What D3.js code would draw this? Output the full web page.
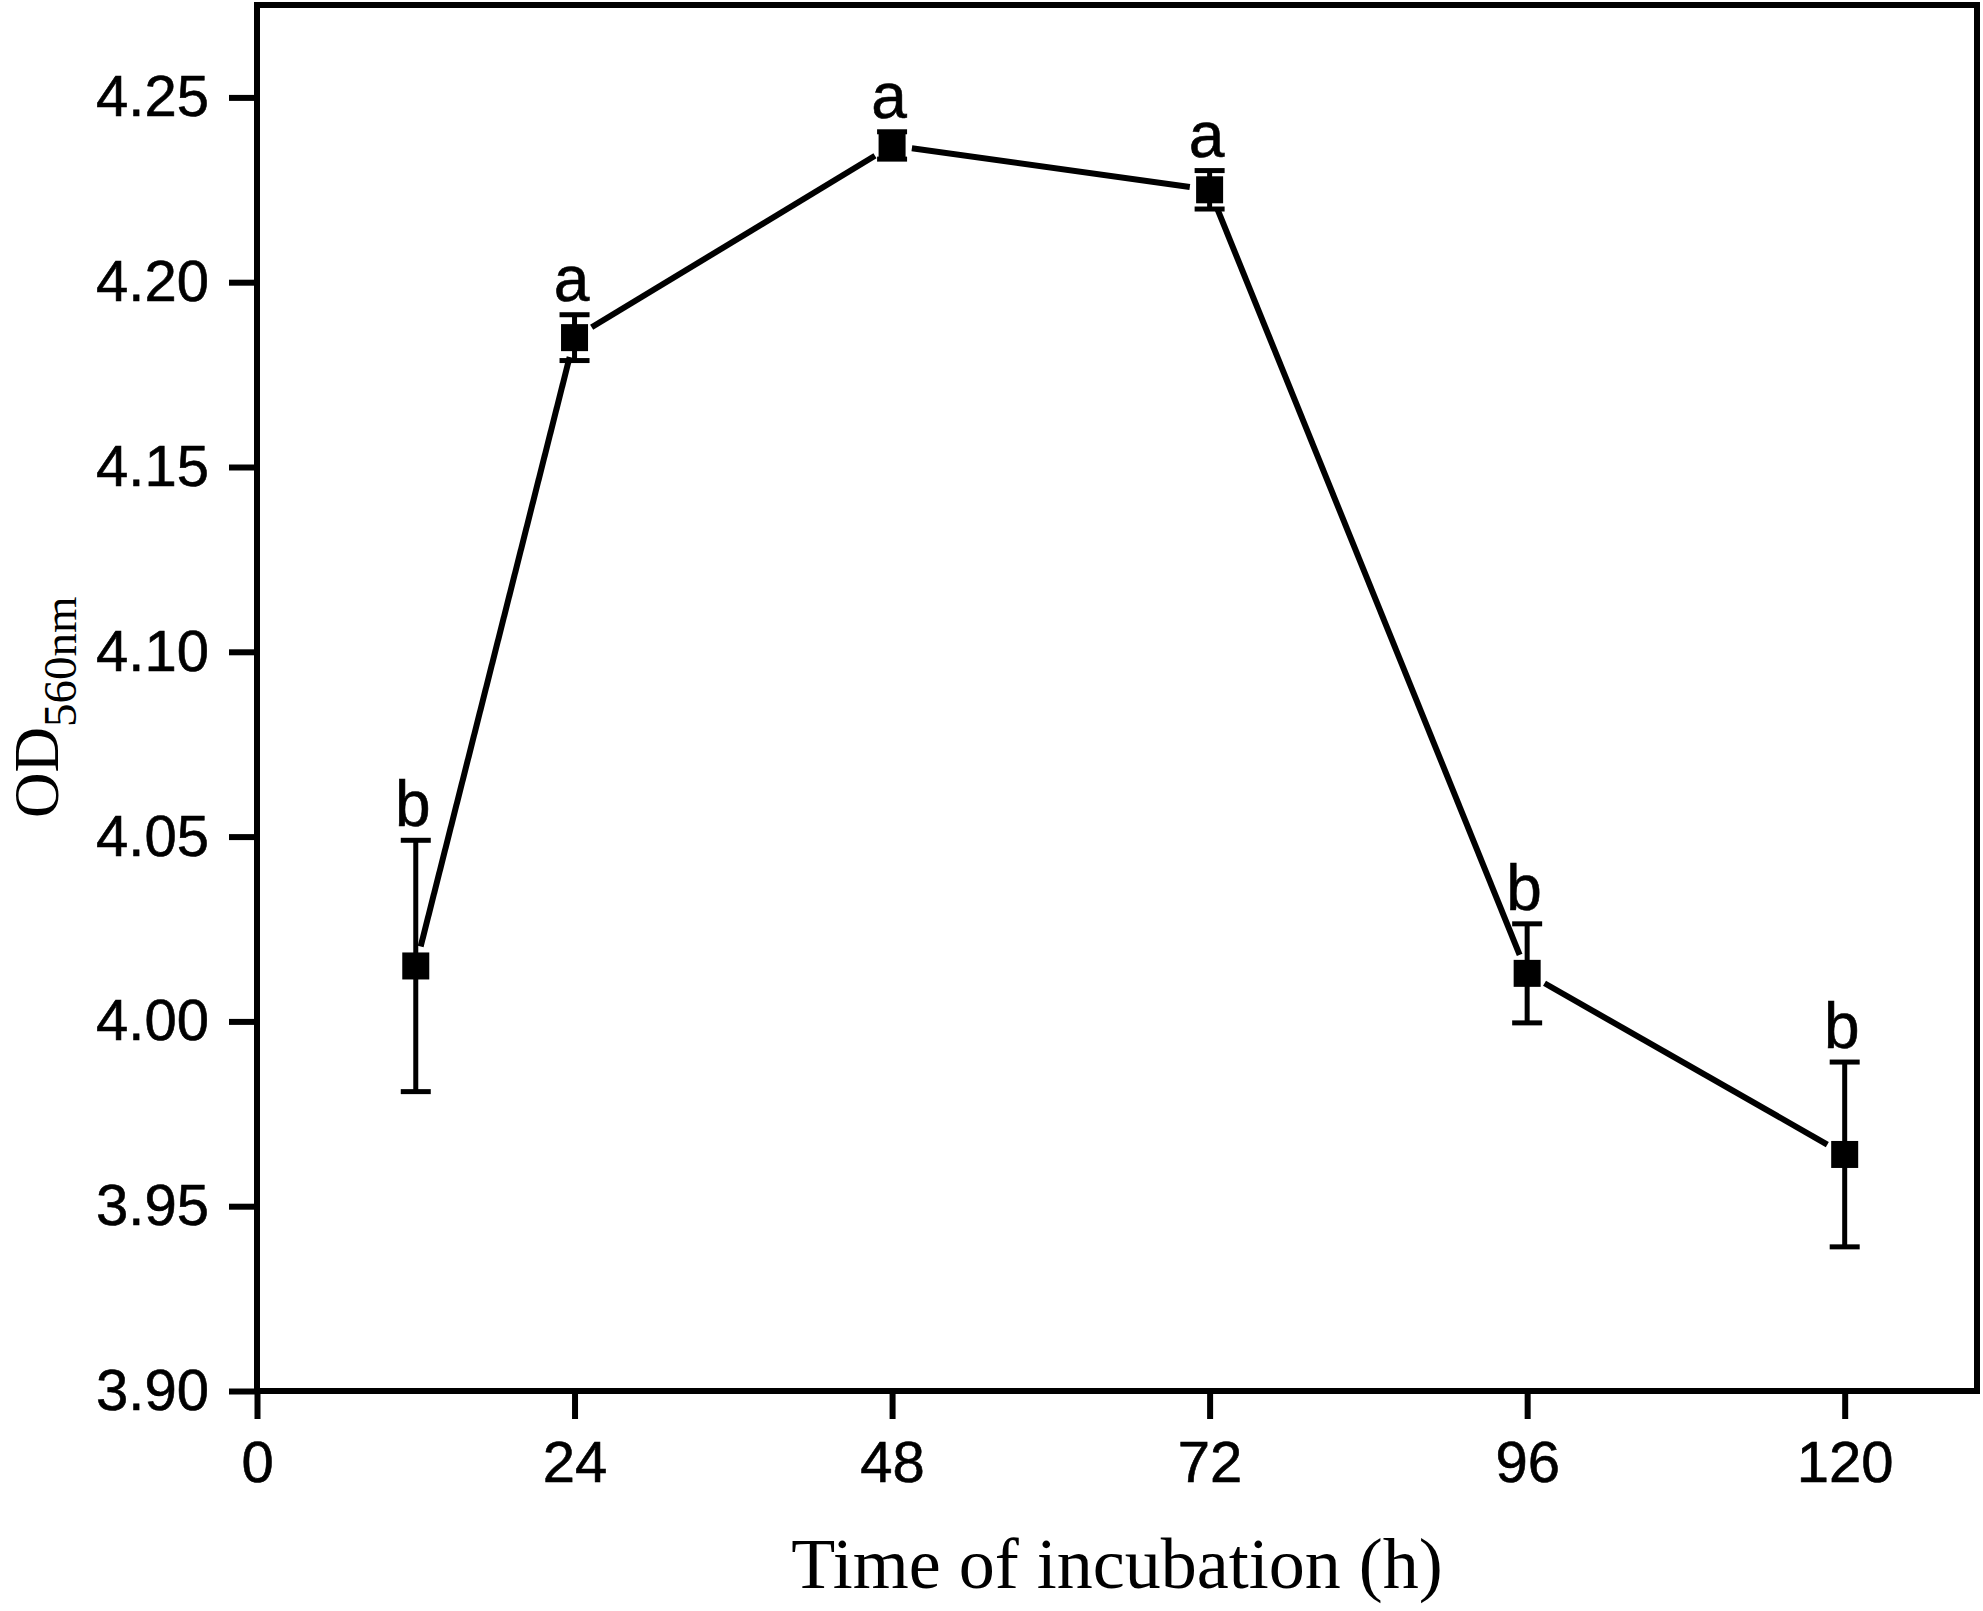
<!DOCTYPE html>
<html>
<head>
<meta charset="utf-8">
<script src="https://cdn.jsdelivr.net/npm/d3@7"></script>
<style>
	body { margin: 0; background: #fff; }
	svg { display: block; }
</style>
</head>
<body>
<svg id="od_chart"></svg>
<script>
const w = 1983
const h = 1611

// values
const hours = [12, 24, 48, 72, 96, 120]
const od_mean = [4.015, 4.185, 4.237, 4.225, 4.013, 3.964]
const od_sd = [0.034, 0.0062, 0.0037, 0.0052, 0.0134, 0.025]
const groups = ['b', 'a', 'a', 'a', 'b', 'b']
const x_ticks = [0, 24, 48, 72, 96, 120]
const y_ticks = [3.90, 3.95, 4.00, 4.05, 4.10, 4.15, 4.20, 4.25]

const margin = { left: 257, top: 5, right: 6, bottom: 220 }
const sans = "'Liberation Sans', Arial, sans-serif"
const serif = "'Liberation Serif', 'Times New Roman', serif"
const marker = 27
const gap = 20

const SVG = d3.select('#od_chart')
	.attr('width', w)
	.attr('height', h)

const xScale = d3.scaleLinear()
	.domain([0, 130])
	.range([margin.left, w - margin.right])

const yScale = d3.scaleLinear()
	.domain([3.90, 4.275])
	.range([h - margin.bottom, margin.top])

let data = hours.map((t, i) => ({ t, m: od_mean[i], sd: od_sd[i], g: groups[i] }))

// axes, ticks outward on left and bottom
const xAxis = SVG.append('g')
	.attr('transform', `translate(0, ${yScale.range()[0]})`)
	.call(d3.axisBottom(xScale).tickValues(x_ticks).tickSize(28).tickPadding(22).tickSizeOuter(0))
const yAxis = SVG.append('g')
	.attr('transform', `translate(${xScale.range()[0]}, 0)`)
	.call(d3.axisLeft(yScale).tickValues(y_ticks).tickFormat(d3.format('.2f')).tickSize(28).tickPadding(20).tickSizeOuter(0))

for (let ax of [xAxis, yAxis]) {
	ax.select('.domain').remove()
	ax.selectAll('line').attr('stroke', '#000').attr('stroke-width', 6)
	ax.selectAll('text')
		.attr('font-family', sans)
		.attr('font-size', 58)
		.attr('fill', '#000')
		.attr('stroke', '#000')
		.attr('stroke-width', 0.6)
}
xAxis.selectAll('text').attr('dy', '0.71em')

// frame
SVG.append('rect')
	.attr('x', xScale.range()[0])
	.attr('y', yScale.range()[1])
	.attr('width', xScale.range()[1] - xScale.range()[0])
	.attr('height', yScale.range()[0] - yScale.range()[1])
	.attr('fill', 'none')
	.attr('stroke', '#000')
	.attr('stroke-width', 6)

// connecting segments, stopped short of the symbols
let segs = d3.pairs(data).map(([a, b]) => {
	let x1 = xScale(a.t), y1 = yScale(a.m), x2 = xScale(b.t), y2 = yScale(b.m)
	let len = Math.hypot(x2 - x1, y2 - y1)
	let ux = (x2 - x1) / len, uy = (y2 - y1) / len
	return { x1: x1 + ux * gap, y1: y1 + uy * gap, x2: x2 - ux * gap, y2: y2 - uy * gap }
})
SVG.selectAll('line.seg').data(segs).enter().append('line')
	.attr('class', 'seg')
	.attr('x1', d => d.x1).attr('y1', d => d.y1)
	.attr('x2', d => d.x2).attr('y2', d => d.y2)
	.attr('stroke', '#000')
	.attr('stroke-width', 6)

// error bars
let err = SVG.selectAll('.err').data(data).enter().append('g').attr('class', 'err')
	.attr('stroke', '#000').attr('stroke-width', 5)
err.append('line')
	.attr('x1', d => xScale(d.t)).attr('x2', d => xScale(d.t))
	.attr('y1', d => yScale(d.m + d.sd)).attr('y2', d => yScale(d.m - d.sd))
err.append('line')
	.attr('x1', d => xScale(d.t) - 15).attr('x2', d => xScale(d.t) + 15)
	.attr('y1', d => yScale(d.m + d.sd)).attr('y2', d => yScale(d.m + d.sd))
err.append('line')
	.attr('x1', d => xScale(d.t) - 15).attr('x2', d => xScale(d.t) + 15)
	.attr('y1', d => yScale(d.m - d.sd)).attr('y2', d => yScale(d.m - d.sd))

// square symbols
SVG.selectAll('rect.pt').data(data).enter().append('rect')
	.attr('class', 'pt')
	.attr('x', d => xScale(d.t) - marker / 2)
	.attr('y', d => yScale(d.m) - marker / 2)
	.attr('width', marker)
	.attr('height', marker)
	.attr('fill', '#000')

// significance letters
SVG.selectAll('text.grp').data(data).enter().append('text')
	.attr('class', 'grp')
	.attr('x', d => xScale(d.t) - 3)
	.attr('y', d => Math.min(yScale(d.m + d.sd), yScale(d.m) - marker / 2) - 14)
	.attr('text-anchor', 'middle')
	.attr('font-family', sans)
	.attr('font-size', 64)
	.attr('stroke', '#000')
	.attr('stroke-width', 0.6)
	.text(d => d.g)

// axis titles
SVG.append('text')
	.attr('x', 1117)
	.attr('y', 1588)
	.attr('text-anchor', 'middle')
	.attr('font-family', serif)
	.attr('font-size', 72)
	.text('Time of incubation (h)')

let ylab = SVG.append('text')
	.attr('transform', 'translate(58, 818) rotate(-90)')
	.attr('font-family', serif)
	.attr('font-size', 63)
ylab.append('tspan').text('OD')
ylab.append('tspan').attr('font-size', 47).attr('dy', 18).text('560nm')
</script>
</body>
</html>
